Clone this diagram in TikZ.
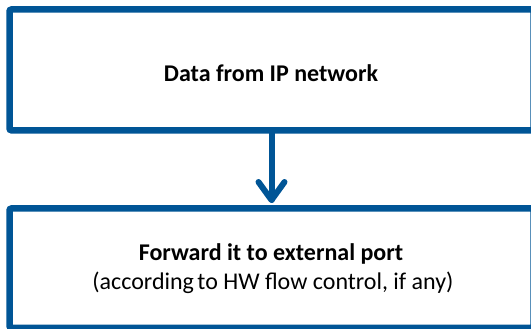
\documentclass[tikz,border=0pt]{standalone}
\usepackage{fontspec}
\setmainfont{Carlito}
\definecolor{boxblue}{RGB}{0,85,150}
\begin{document}
\begin{tikzpicture}[x=1pt,y=1pt,
  flowbox/.style={draw=boxblue,line width=6.5pt,fill=white,rounded corners=2pt},
  conn/.style={draw=boxblue,line width=6pt,line cap=round,line join=round},
  lbl/.style={anchor=base,inner sep=0pt,font=\fontsize{24}{29}\selectfont}]
\useasboundingbox (0,0) rectangle (531,329);
\begin{scope}
\clip (0,0) rectangle (531,329);
\draw[flowbox] (9.5,319.5) rectangle (533.5,198.7);
\draw[flowbox] (9.5,120.5) rectangle (533.5,1);
\end{scope}
\coordinate (topbox) at (271.5,196);
\coordinate (botbox) at (271.5,129);
\node[lbl,font=\bfseries\fontsize{24}{29}\selectfont] (t1) at (271,247.3) {Data from IP network};
\node[lbl,font=\bfseries\fontsize{24}{29}\selectfont] (t2) at (271,68) {Forward it to external port};
\node[lbl] (t3) at (273,39) {(according\kern-2pt{} to HW flow control, if any)};
\draw[conn] (topbox) -- (botbox);
\draw[conn] ([xshift=-13pt,yshift=18pt]botbox) -- (botbox) -- ([xshift=13pt,yshift=18pt]botbox);
\end{tikzpicture}
\end{document}
